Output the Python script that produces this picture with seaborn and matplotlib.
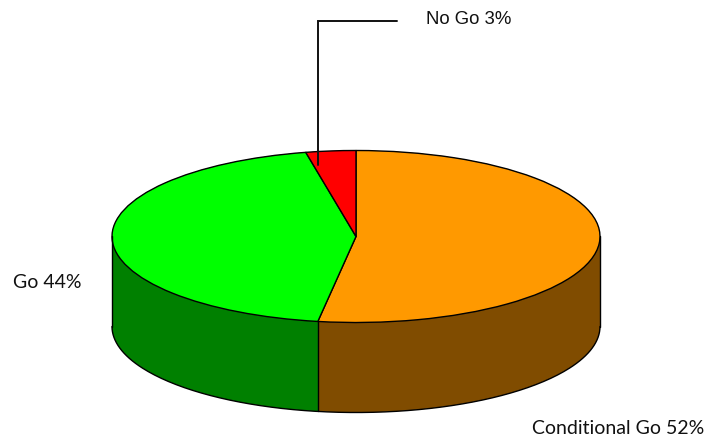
import numpy as np
import matplotlib.pyplot as plt
import seaborn as sns

labels = ['Conditional Go 52%', 'Go 44%', 'No Go 3%']
shares = [52.5, 44.2, 3.3]
top_colors = ['#FF9900', '#00FF00', '#FF0000']
side_colors = ['#804C00', '#008000', '#800000']

sns.set_theme(style='white')
plt.rcParams['font.family'] = ['Lato', 'DejaVu Sans']

W, H = 718, 440
cx, cy = 356, 236.5
rx, ry = 244, 86
depth = 90 / ry

fig = plt.figure(figsize=(W / 100, H / 100), dpi=100)
ax = fig.add_axes([0, 0, 1, 1])

# side wall: same pie stacked downward, oldest first
for dy in np.linspace(depth, 0, 92):
    ax.pie(shares, colors=side_colors, startangle=90, counterclock=False,
           center=(0, -dy), radius=1, frame=True,
           wedgeprops={'linewidth': 0})
# outline of the bottom edge and the cylinder sides
th = np.radians(np.linspace(180, 360, 200))
ax.plot(np.cos(th), np.sin(th) - depth, color='black', lw=1.0)
ax.plot([-1, -1], [0, -depth], color='black', lw=1.0)
ax.plot([1, 1], [0, -depth], color='black', lw=1.0)
# vertical seam where orange meets green on the front
seam = np.radians(90 - 360 * shares[0] / sum(shares))
ax.plot([np.cos(seam)] * 2, [np.sin(seam), np.sin(seam) - depth], color='black', lw=1.0)

ax.pie(shares, colors=top_colors, startangle=90, counterclock=False,
       center=(0, 0), radius=1, frame=True,
       wedgeprops={'linewidth': 1.0, 'edgecolor': 'black'})

ax.set_aspect('auto')
ax.set_xlim(-cx / rx, (W - cx) / rx)
ax.set_ylim(-(H - cy) / ry, cy / ry)
ax.axis('off')


def px(x, y):
    return (x - cx) / rx, (cy - y) / ry


# leader to the No Go slice
xs, ys = zip(px(318, 165), px(318, 21), px(397, 21))
ax.plot(xs, ys, color='#111111', lw=1.4, solid_joinstyle='miter')

ax.text(*px(426, 19), labels[2], fontsize=13.4, color='#111111', va='center',
        family=['Liberation Sans', 'DejaVu Sans'])
ax.text(*px(13, 282), labels[1], fontsize=14, color='#111111', va='center')
ax.text(*px(532, 429), labels[0], fontsize=14, color='#111111', va='center')

fig.savefig('out.png', dpi=100, facecolor='white')
